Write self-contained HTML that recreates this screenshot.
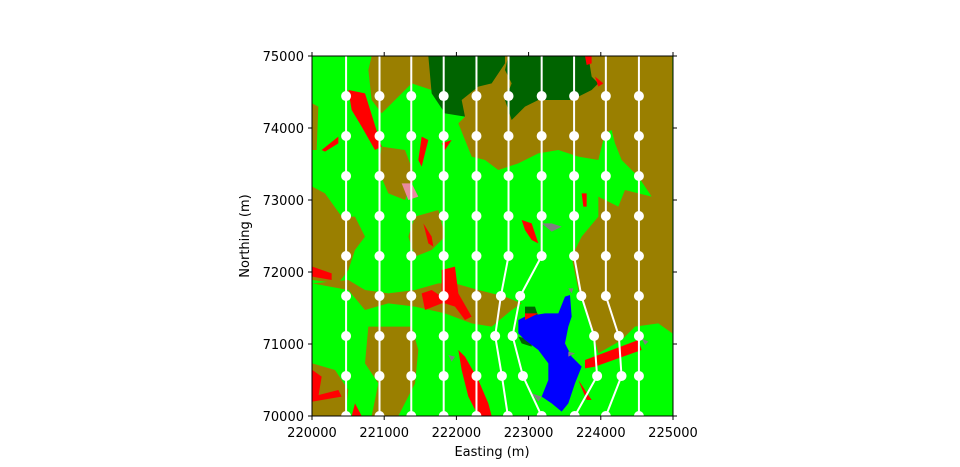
<!DOCTYPE html>
<html><head><meta charset="utf-8"><style>
body{margin:0;background:#fff;}
svg{display:block;font-family:"DejaVu Sans","Liberation Sans",sans-serif;}
</style></head><body>
<svg id="chart" width="960" height="467" viewBox="0 0 960 467" xmlns="http://www.w3.org/2000/svg">
<defs><clipPath id="plotclip"><rect x="312" y="56" width="361" height="360"/></clipPath></defs>
<g clip-path="url(#plotclip)">
<rect x="312" y="56" width="361" height="360" fill="#00ff00"/>
<g transform="translate(305,50) scale(0.33333)">
<g fill="#9a7f00">
<polygon points="360,18 1102,18 1102,850 1060,820 990,830 950,870 880,910 860,830 820,720 800,620 830,560 880,500 880,440 940,470 960,420 1040,440 1000,380 950,330 930,280 920,240 900,250 880,330 820,320 760,300 700,310 640,340 580,360 540,330 500,320 480,270 460,220 480,200 420,180 380,120 360,60"/>
<polygon points="200,18 360,18 380,120 320,100 230,190 200,150 190,60"/>
<polygon points="22,410 60,430 110,500 150,500 180,560 150,600 130,660 100,700 22,690"/>
<polygon points="230,290 300,300 330,380 300,450 250,430 220,360"/>
<polygon points="330,500 400,480 420,560 380,600 330,620 310,560"/>
<polygon points="22,700 130,720 180,780 250,760 330,770 420,790 500,820 560,830 620,780 650,760 600,740 520,720 450,700 400,700 330,720 250,730 180,720 130,690"/>
<polygon points="190,830 320,830 340,900 330,1000 280,1098 200,1098 220,1000 180,940"/>
<polygon points="22,940 90,960 130,1020 120,1098 22,1098"/>
<polygon points="22,160 40,170 35,300 22,300"/>
</g>
<g fill="#006400">
<polygon points="370,18 600,18 600,40 560,100 520,110 470,150 480,200 420,190 380,130"/>
<polygon points="610,18 850,18 860,80 880,100 860,120 800,150 700,150 660,170 620,210 600,150 620,100 600,60"/>
<polygon points="660,770 690,770 700,800 660,800"/>
<polygon points="640,860 680,870 680,890 650,880"/>
</g>
<polygon fill="#0000ff" points="660,800 720,790 760,790 780,740 795,735 800,800 790,830 780,880 800,920 830,950 810,1000 790,1060 770,1085 740,1060 710,1040 730,990 730,940 700,900 660,870 640,850 640,810"/>
<g fill="#ff0000">
<polygon points="130,120 180,130 230,290 210,300 170,230 140,180"/>
<polygon points="410,660 450,650 460,730 500,800 480,810 450,770 420,760 410,760 360,780 350,730 380,720 410,740"/>
<polygon points="650,510 680,520 700,580 680,570 660,540"/>
<polygon points="840,930 1000,870 1010,900 870,950 840,955"/>
<polygon points="460,900 480,920 520,990 550,1060 560,1098 520,1098 490,1040 470,960"/>
<polygon points="350,260 370,270 350,350 340,330"/>
<polygon points="22,650 80,670 80,690 22,680"/>
<polygon points="22,960 50,980 40,1040 22,1050"/>
<polygon points="150,1060 170,1098 140,1098"/>
<polygon points="840,18 860,18 860,40 845,45"/>
<polygon points="870,80 895,100 880,110"/>
<polygon points="410,280 440,270 420,300"/>
<polygon points="50,300 100,260 100,280 60,305"/>
<polygon points="355,520 380,560 385,590 370,580"/>
<polygon points="830,430 845,430 845,470 835,470"/>
<polygon points="660,790 700,790 660,810"/>
<polygon points="820,990 840,1020 860,1050 845,1050"/>
<polygon points="22,1040 100,1020 110,1040 22,1055"/>
</g>
<polygon fill="#e88aa0" points="290,400 320,400 340,440 310,450"/>
<g fill="#808080">
<polygon points="710,520 740,520 770,530 740,545"/>
<polygon points="790,905 810,910 790,920"/>
<polygon points="430,915 450,920 440,935"/>
<polygon points="790,715 805,715 800,730"/>
<polygon points="680,1030 710,1040 700,1055"/>
<polygon points="1010,865 1030,875 1020,885"/>
</g>
</g>
<g id="lines"></g>
</g>
<rect x="312" y="56" width="361" height="360" fill="none" stroke="#000" stroke-width="1"/>
<g id="axes" font-size="13" fill="#000"></g>
<text x="492" y="456" text-anchor="middle" font-size="13">Easting (m)</text>
<text transform="translate(249,236) rotate(-90)" text-anchor="middle" font-size="13">Northing (m)</text>
</svg>
<script>
const rowNorthing=[70000,70556,71111,71667,72222,72778,73333,73889,74444,75000];
const line1=[220472,220472,220472,220472,220472,220472,220472,220472,220472,220472];
const line2=[220935,220935,220935,220935,220935,220935,220935,220935,220935,220935];
const line3=[221375,221375,221375,221375,221375,221375,221375,221375,221375,221375];
const line4=[221824,221824,221824,221824,221824,221824,221824,221824,221824,221824];
const line5=[222278,222278,222278,222278,222278,222278,222278,222278,222278,222278];
const line6=[222713,222630,222537,222616,222722,222722,222722,222722,222722,222722];
const line7=[223181,222921,222778,222884,223181,223181,223181,223181,223181,223181];
const line8=[223639,223949,223907,223731,223630,223630,223630,223630,223630,223630];
const line9=[224070,224287,224250,224070,224070,224070,224070,224070,224070,224070];
const line10=[224528,224528,224528,224528,224528,224528,224528,224528,224528,224528];
const lines=[line1,line2,line3,line4,line5,line6,line7,line8,line9,line10];
const xTicks=[220000,221000,222000,223000,224000,225000];
const yTicks=[70000,71000,72000,73000,74000,75000];
const NS="http://www.w3.org/2000/svg";
const sx=e=>312+(e-220000)/5000*361;
const sy=n=>416-(n-70000)/5000*360;
const lg=document.getElementById('lines');
lines.forEach((ln,i)=>{
  const pl=document.createElementNS(NS,'polyline');
  pl.setAttribute('points',ln.map((e,k)=>sx(e)+','+sy(rowNorthing[k])).join(' '));
  pl.setAttribute('fill','none');pl.setAttribute('stroke','#fff');pl.setAttribute('stroke-width','2');
  
  
  lg.appendChild(pl);
  ln.forEach((e,k)=>{
    if(k===ln.length-1) return;
    const c=document.createElementNS(NS,'circle');
    c.setAttribute('cx',sx(e));c.setAttribute('cy',sy(rowNorthing[k]));c.setAttribute('r','5');c.setAttribute('fill','#fff');
    
    
    lg.appendChild(c);
  });
});
const ax=document.getElementById('axes');
xTicks.forEach(t=>{
  const x=sx(t);
  [[416,420],[56,52]].forEach(([a,b])=>{const l=document.createElementNS(NS,'line');l.setAttribute('x1',x);l.setAttribute('x2',x);l.setAttribute('y1',a);l.setAttribute('y2',b);l.setAttribute('stroke','#000');
  
  ax.appendChild(l);});
  const tx=document.createElementNS(NS,'text');tx.setAttribute('x',x);tx.setAttribute('y',437);tx.setAttribute('text-anchor','middle');tx.textContent=t;
  
  ax.appendChild(tx);
});
yTicks.forEach(t=>{
  const y=sy(t);
  [[312,308],[673,677]].forEach(([a,b])=>{const l=document.createElementNS(NS,'line');l.setAttribute('x1',a);l.setAttribute('x2',b);l.setAttribute('y1',y);l.setAttribute('y2',y);l.setAttribute('stroke','#000');
  
  ax.appendChild(l);});
  const tx=document.createElementNS(NS,'text');tx.setAttribute('x',304);tx.setAttribute('y',y+5);tx.setAttribute('text-anchor','end');tx.textContent=t;
  
  ax.appendChild(tx);
});
</script>
</body></html>
